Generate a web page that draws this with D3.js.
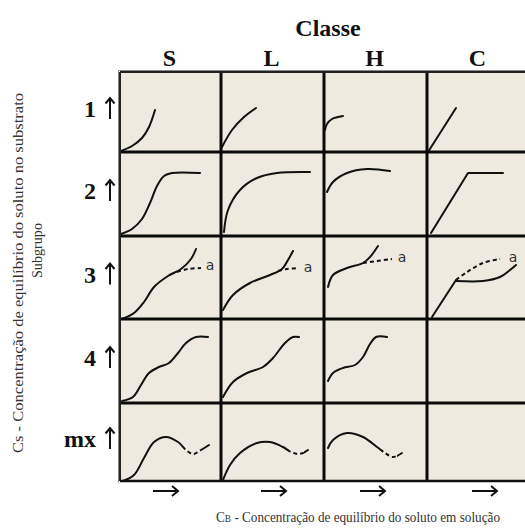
<!DOCTYPE html>
<html><head><meta charset="utf-8">
<script src="https://cdn.jsdelivr.net/npm/d3@7"></script>
<style>html,body{margin:0;padding:0;background:#fff;}svg{display:block;}
.serif{font-family:"Liberation Serif","Times New Roman","DejaVu Serif",serif;}
</style>
</head><body>
<script>
// ---------- data ----------
const classes = ["S", "L", "H", "C"];
const subgroups = ["1", "2", "3", "4", "mx"];
const title = "Classe";
const yLabel = "Cs - Concentração de equilíbrio do soluto no substrato";
const yLabel2 = "Subgrupo";
const xLabelMain = "C";
const xLabelSub = "B";
const xLabelRest = " - Concentração de equilíbrio do soluto em solução";
const branchLabel = "a";

// curve points in cell-local units: [x from cell left, y from cell bottom]
const S1 = [[1,1],[12,6],[22,14],[29,25],[35,42]];
const L1 = [[1,5],[11,22],[23,35],[35,44]];
const H1 = [[1,22],[3,28],[8,33],[19,36]];
const C1 = [[1,0],[29,44]];

const S2 = [[1,2],[12,7],[22,17],[30,33],[37,50],[44,60],[52,63],[80,63]];
const L2 = [[3,4],[7,26],[19,46],[36,58],[56,63],[89,64]];
const H2 = [[3,44],[9,54],[23,63],[43,67],[66,65]];
const C2 = [[4,3],[41,63],[76,63]];

const S3 = [[2,0],[14,6],[24,17],[34,32],[48,43],[61,50],[71,60],[76,70]];
const S3a = [[57,47],[68,50],[81,51]];
const L3 = [[2,9],[12,24],[29,36],[49,44],[61,50],[67,59],[72,68]];
const L3a = [[57,48],[66,50],[77,51]];
const H3 = [[4,32],[9,44],[23,51],[39,56],[46,62],[54,73]];
const H3a = [[39,56],[53,58],[68,60]];
const C3 = [[5,2],[29,39]];
const C3b = [[29,38],[56,38],[73,42],[83,49],[89,54]];
const C3a = [[29,39],[40,47],[56,56],[73,60]];

const S4 = [[2,2],[13,6],[21,18],[29,30],[39,36],[49,40],[58,50],[66,60],[76,66],[88,66]];
const L4 = [[2,6],[12,21],[26,30],[42,36],[52,45],[64,60],[72,66],[78,66]];
const H4 = [[4,22],[9,30],[19,35],[31,38],[39,46],[46,59],[52,66],[63,66]];

const S5 = [[3,0],[14,6],[24,23],[34,39],[46,44],[58,39],[66,31],[73,27],[81,31],[89,36]];
const L5 = [[2,1],[9,16],[19,28],[36,38],[49,39],[62,34],[70,29],[77,27],[82,28],[87,31]];
const H5 = [[4,33],[9,41],[23,48],[39,44],[53,34],[61,28],[69,24],[78,28]];

// table the library draws from
const series = [
  {cls:"S", sub:"1", pts:S1, kind:"curve"},
  {cls:"L", sub:"1", pts:L1, kind:"curve"},
  {cls:"H", sub:"1", pts:H1, kind:"curve"},
  {cls:"C", sub:"1", pts:C1, kind:"linear"},
  {cls:"S", sub:"2", pts:S2, kind:"curve"},
  {cls:"L", sub:"2", pts:L2, kind:"curve"},
  {cls:"H", sub:"2", pts:H2, kind:"curve"},
  {cls:"C", sub:"2", pts:C2, kind:"linear"},
  {cls:"S", sub:"3", pts:S3, kind:"curve"},
  {cls:"S", sub:"3", pts:S3a, kind:"curve", dashed:true},
  {cls:"L", sub:"3", pts:L3, kind:"curve"},
  {cls:"L", sub:"3", pts:L3a, kind:"curve", dashed:true},
  {cls:"H", sub:"3", pts:H3, kind:"curve"},
  {cls:"H", sub:"3", pts:H3a, kind:"curve", dashed:true},
  {cls:"C", sub:"3", pts:C3, kind:"linear"},
  {cls:"C", sub:"3", pts:C3b, kind:"curve"},
  {cls:"C", sub:"3", pts:C3a, kind:"curve", dashed:true},
  {cls:"S", sub:"4", pts:S4, kind:"curve"},
  {cls:"L", sub:"4", pts:L4, kind:"curve"},
  {cls:"H", sub:"4", pts:H4, kind:"curve"},
  {cls:"S", sub:"mx", pts:S5, kind:"curve", dashRange:[65,82]},
  {cls:"L", sub:"mx", pts:L5, kind:"curve", dashRange:[68,83]},
  {cls:"H", sub:"mx", pts:H5, kind:"curve", dashRange:[58,73]}
];
const labels = [
  {cls:"S", sub:"3", pos:[90,54]},
  {cls:"L", sub:"3", pos:[87,52]},
  {cls:"H", sub:"3", pos:[78,62]},
  {cls:"C", sub:"3", pos:[86,62]}
];

// ---------- layout ----------
const W = 525, H = 529;
const colEdges = [120, 221, 324, 427, 530];
const rowEdges = [72, 152, 236, 319, 403, 481];
const arrowOffsets = [46, 53, 49, 58];

const svg = d3.select("body").append("svg").attr("width", W).attr("height", H);

const colIdx = d3.scaleOrdinal(classes, d3.range(classes.length));
const rowIdx = d3.scaleOrdinal(subgroups, d3.range(subgroups.length));

function xs(cls){
  const i = colIdx(cls);
  return d3.scaleLinear().domain([0, colEdges[i+1]-colEdges[i]]).range([colEdges[i], colEdges[i+1]]);
}
function ys(sub){
  const i = rowIdx(sub);
  return d3.scaleLinear().domain([0, rowEdges[i+1]-rowEdges[i]]).range([rowEdges[i+1], rowEdges[i]]);
}

// background
svg.append("rect").attr("x", colEdges[0]).attr("y", rowEdges[0])
  .attr("width", colEdges[4]-colEdges[0]).attr("height", rowEdges[5]-rowEdges[0])
  .attr("fill", "#eeeadf");

const defs = svg.append("defs");

// curves
const g = svg.append("g");
function styleLine(p){
  return p.attr("fill","none").attr("stroke","#111").attr("stroke-width",2)
    .attr("stroke-linecap","round").attr("stroke-linejoin","round");
}
series.forEach((s, k) => {
  const x = xs(s.cls), y = ys(s.sub);
  const line = d3.line().x(d => x(d[0])).y(d => y(d[1]))
    .curve(s.kind === "linear" ? d3.curveLinear : d3.curveCatmullRom.alpha(0.5));
  if (s.dashRange){
    const a = x(s.dashRange[0]), b = x(s.dashRange[1]);
    const top = y.range()[1]-5, bot = y.range()[0]+5;
    const idA = "clipA"+k, idB = "clipB"+k;
    const cA = defs.append("clipPath").attr("id", idA);
    cA.append("rect").attr("x", x.range()[0]-5).attr("y", top).attr("width", a-x.range()[0]+5).attr("height", bot-top);
    cA.append("rect").attr("x", b).attr("y", top).attr("width", x.range()[1]-b).attr("height", bot-top);
    const cB = defs.append("clipPath").attr("id", idB);
    cB.append("rect").attr("x", a).attr("y", top).attr("width", b-a).attr("height", bot-top);
    styleLine(g.append("path").attr("d", line(s.pts)).attr("clip-path", `url(#${idA})`));
    styleLine(g.append("path").attr("d", line(s.pts)).attr("clip-path", `url(#${idB})`))
      .attr("stroke-dasharray", "4,3").attr("stroke-linecap","butt");
  } else {
    const p = styleLine(g.append("path").attr("d", line(s.pts)));
    if (s.dashed) p.attr("stroke-dasharray", "4,3").attr("stroke-linecap","butt");
  }
});

// branch labels
labels.forEach(l => {
  const x = xs(l.cls), y = ys(l.sub);
  svg.append("text").attr("x", x(l.pos[0])).attr("y", y(l.pos[1]))
    .attr("text-anchor", "middle").attr("dominant-baseline", "central")
    .style("font-family", "'DejaVu Sans',sans-serif").attr("font-size", 14)
    .attr("fill", "#333").text(branchLabel);
});

// grid lines
const grid = svg.append("g").attr("stroke", "#0a0a0a").attr("stroke-width", 3);
colEdges.slice(1, 4).forEach(c => grid.append("line").attr("x1", c).attr("x2", c).attr("y1", rowEdges[0]).attr("y2", rowEdges[5]));
rowEdges.slice(1, 5).forEach(r => grid.append("line").attr("x1", colEdges[0]).attr("x2", W).attr("y1", r).attr("y2", r));
// outer border
svg.append("line").attr("x1", colEdges[0]).attr("x2", W).attr("y1", rowEdges[0]).attr("y2", rowEdges[0]).attr("stroke", "#222").attr("stroke-width", 2);
svg.append("line").attr("x1", colEdges[0]).attr("x2", colEdges[0]).attr("y1", rowEdges[0]).attr("y2", rowEdges[5]).attr("stroke", "#222").attr("stroke-width", 2);
svg.append("line").attr("x1", colEdges[0]).attr("x2", W).attr("y1", rowEdges[5]).attr("y2", rowEdges[5]).attr("stroke", "#111").attr("stroke-width", 2.5);
svg.append("line").attr("x1", colEdges[0]-1.5).attr("x2", W).attr("y1", rowEdges[0]-1.5).attr("y2", rowEdges[0]-1.5).attr("stroke", "#888").attr("stroke-width", 1);
svg.append("line").attr("x1", colEdges[0]-1.5).attr("x2", colEdges[0]-1.5).attr("y1", rowEdges[0]-1.5).attr("y2", rowEdges[5]+1.5).attr("stroke", "#888").attr("stroke-width", 1);

// title & column headers
svg.append("text").attr("class","serif").attr("x", 328).attr("y", 36).attr("text-anchor", "middle")
  .attr("font-weight", "bold").attr("font-size", 24).attr("fill", "#111").text(title);
classes.forEach(c => {
  const x = xs(c);
  svg.append("text").attr("class","serif").attr("x", (x.range()[0]+x.range()[1])/2 - 1).attr("y", 66).attr("text-anchor", "middle")
    .attr("font-weight", "bold").attr("font-size", 24).attr("fill", "#111").text(c);
});

// row labels + up arrows
subgroups.forEach(s => {
  const y = ys(s);
  const cy = (y.range()[0]+y.range()[1])/2 - 3;
  svg.append("text").attr("class","serif").attr("x", 96).attr("y", cy).attr("text-anchor", "end").attr("dominant-baseline", "central")
    .attr("font-weight", "bold").attr("font-size", 24).attr("fill", "#111").text(s);
  const ax = 110;
  svg.append("path").attr("d", `M${ax},${cy+10}V${cy-11}M${ax-4.5},${cy-5.5}L${ax},${cy-11}L${ax+4.5},${cy-5.5}`)
    .attr("fill", "none").attr("stroke", "#111").attr("stroke-width", 2);
});

// bottom arrows
classes.forEach((c, i) => {
  const x = xs(c);
  const cx = x.range()[0] + arrowOffsets[i];
  const ay = 491;
  svg.append("path").attr("d", `M${cx-13},${ay}H${cx+12}M${cx+6},${ay-5}L${cx+12},${ay}L${cx+6},${ay+5}`)
    .attr("fill", "none").attr("stroke", "#111").attr("stroke-width", 2);
});

// axis titles
const xt = svg.append("text").attr("class","serif").attr("x", 216).attr("y", 522)
  .attr("font-size", 14).attr("fill", "#333")
  .attr("textLength", 284).attr("lengthAdjust", "spacingAndGlyphs");
xt.append("tspan").text(xLabelMain);
xt.append("tspan").attr("font-size", 10).text(xLabelSub);
xt.append("tspan").text(xLabelRest);

svg.append("text").attr("class","serif").attr("transform", "translate(23,453) rotate(-90)")
  .attr("font-size", 14).attr("fill", "#333")
  .attr("textLength", 360).attr("lengthAdjust", "spacingAndGlyphs").text(yLabel);
svg.append("text").attr("class","serif").attr("transform", "translate(42,278) rotate(-90)")
  .attr("font-size", 14).attr("fill", "#333")
  .attr("textLength", 55).attr("lengthAdjust", "spacingAndGlyphs").text(yLabel2);
</script>
</body></html>
